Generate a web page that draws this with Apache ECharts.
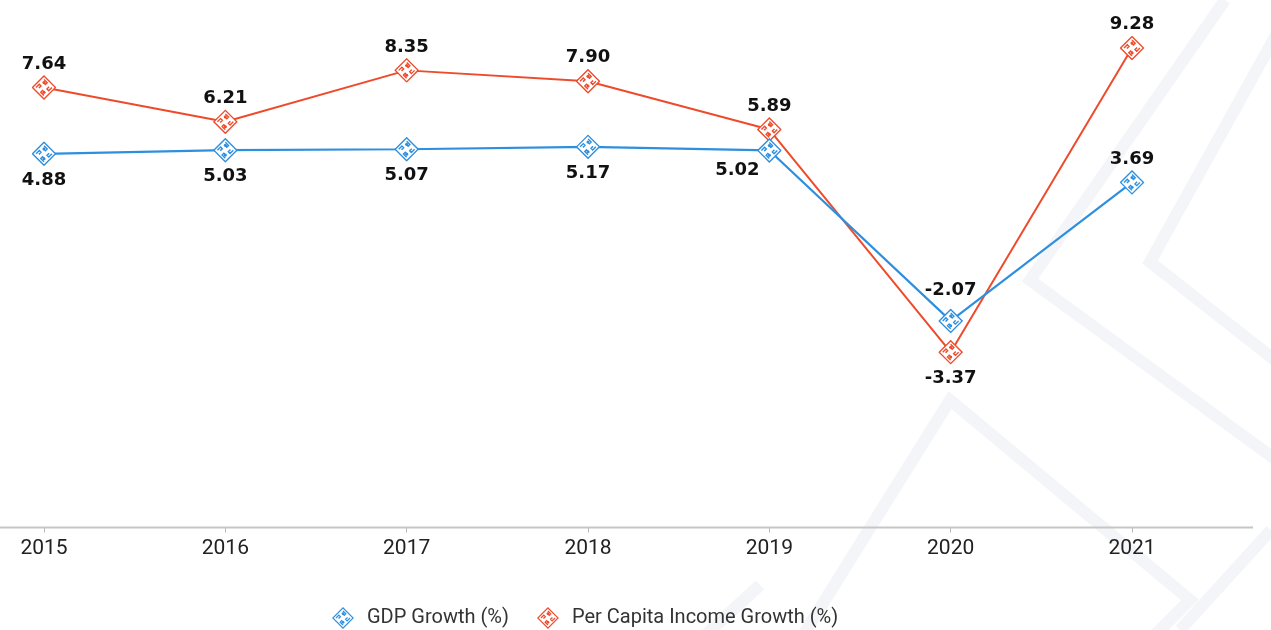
<!DOCTYPE html>
<html>
<head>
<meta charset="utf-8">
<title>GDP and Per Capita Income Growth</title>
<script src="https://cdn.jsdelivr.net/npm/echarts@6/dist/echarts.min.js"></script>
<style>
  html, body { margin: 0; padding: 0; background: #fff; }
  #chart { width: 1271px; height: 630px; }
</style>
</head>
<body>
<div id="chart"></div>
<script>
// values
const years = ["2015", "2016", "2017", "2018", "2019", "2020", "2021"];
const gdpGrowth = [4.88, 5.03, 5.07, 5.17, 5.02, -2.07, 3.69];
const incomeGrowth = [7.64, 6.21, 8.35, 7.90, 5.89, -3.37, 9.28];

const BLUE = "#2f8fdf";
const RED = "#ee4b2b";

// diamond "greek key" marker, drawn as a small svg
function keyMarker(color) {
  const svg =
    '<svg xmlns="http://www.w3.org/2000/svg" width="24" height="24" viewBox="0 0 24 24">' +
    '<g transform="rotate(45 12 12)" fill="none" stroke="' + color + '" stroke-width="1.3">' +
    '<rect x="4.2" y="4.2" width="15.6" height="15.6" fill="#fff"/>' +
    '<path d="M6.6 6.6h4.4v2.4h-2.2v-0.8"/>' +
    '<path d="M17.4 6.6v4.4h-2.4v-2.2h0.8"/>' +
    '<path d="M17.4 17.4h-4.4v-2.4h2.2v0.8"/>' +
    '<path d="M6.6 17.4v-4.4h2.4v2.2h-0.8"/>' +
    '</g>' +
    '<circle cx="12" cy="7.3" r="1.5" fill="' + color + '"/>' +
    '<circle cx="12" cy="16.7" r="1.5" fill="' + color + '"/>' +
    '</svg>';
  return "image://data:image/svg+xml;charset=utf-8," + encodeURIComponent(svg);
}

const labelFont = {
  color: "#111",
  fontFamily: "DejaVu Sans",
  fontWeight: "bold",
  fontSize: 18
};

// per point label placement
function gdpPoints() {
  return gdpGrowth.map((v, i) => {
    let label = { position: "bottom", distance: 5 };
    if (i === 4) label = { position: "bottom", distance: 2, offset: [-32, -4] };
    if (i >= 5) label = { position: "top", distance: i === 5 ? 9 : 2 };
    return { value: v, label };
  });
}

function incomePoints() {
  return incomeGrowth.map((v, i) => {
    const label = i === 5
      ? { position: "bottom", distance: 5 }
      : { position: "top", distance: 2 };
    return { value: v, label };
  });
}

// faint chevrons in the background
const stripe = { stroke: "#f4f5f8", lineWidth: 12, fill: null };
const chevrons = [
  [[1290, 10], [1150, 262], [1290, 372]],
  [[1225, 0], [1030, 280], [1290, 470]],
  [[800, 640], [950, 400], [1190, 600], [1150, 640]],
  [[700, 640], [760, 585]],
  [[1271, 530], [1180, 630]]
].map(pts => ({
  type: "polyline",
  silent: true,
  z: -10,
  shape: { points: pts },
  style: stripe
}));

const chart = echarts.init(document.getElementById("chart"), null, { renderer: "canvas" });

chart.setOption({
  animation: false,
  backgroundColor: "#fff",
  graphic: chevrons.concat([{
    type: "line",
    silent: true,
    z: 1,
    shape: { x1: 0, y1: 527.5, x2: 1253, y2: 527.5 },
    style: { stroke: "#c6c6c6", lineWidth: 2 }
  }]),
  grid: { left: 44, right: 139, top: 30.7, bottom: 102.3, containLabel: false },
  legend: {
    top: 602,
    left: 327,
    itemGap: 28,
    itemWidth: 22,
    itemHeight: 22,
    textStyle: { color: "#333", fontFamily: "Roboto", fontSize: 20, padding: [0, 0, 0, 8] },
    data: [
      { name: "GDP Growth (%)", icon: keyMarker(BLUE) },
      { name: "Per Capita Income Growth (%)", icon: keyMarker(RED) }
    ]
  },
  xAxis: {
    type: "category",
    data: years,
    boundaryGap: false,
    axisLine: { show: false, onZero: false },
    axisTick: { show: true, length: 5, lineStyle: { color: "#bbb", width: 1 } },
    axisLabel: { color: "#222", fontFamily: "Roboto", fontSize: 21, margin: 11 },
    splitLine: { show: false }
  },
  yAxis: {
    type: "value",
    min: -10.67,
    max: 10,
    show: false,
    splitLine: { show: false }
  },
  series: [
    {
      name: "Per Capita Income Growth (%)",
      type: "line",
      z: 2,
      data: incomePoints(),
      symbol: keyMarker(RED),
      symbolSize: 25,
      lineStyle: { color: RED, width: 2 },
      itemStyle: { color: RED },
      label: Object.assign({ show: true, formatter: p => p.value.toFixed(2) }, labelFont)
    },
    {
      name: "GDP Growth (%)",
      type: "line",
      z: 3,
      data: gdpPoints(),
      symbol: keyMarker(BLUE),
      symbolSize: 25,
      lineStyle: { color: BLUE, width: 2.2 },
      itemStyle: { color: BLUE },
      label: Object.assign({ show: true, formatter: p => p.value.toFixed(2) }, labelFont)
    }
  ]
});
</script>
</body>
</html>
